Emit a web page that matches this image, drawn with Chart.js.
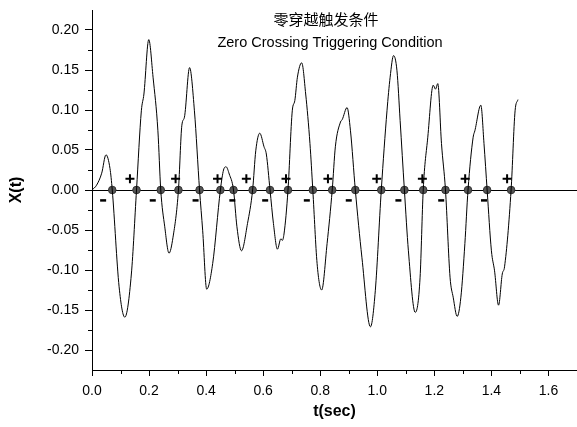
<!DOCTYPE html>
<html>
<head>
<meta charset="utf-8">
<script src="https://cdn.jsdelivr.net/npm/chart.js@4.4.1/dist/chart.umd.min.js"></script>
<style>
  html, body { margin: 0; padding: 0; background: #fff; }
  #wrap { width: 577px; height: 427px; }
</style>
</head>
<body>
<div id="wrap"><canvas id="zc"></canvas></div>
<script>
// --- data ---
const timeSec = [0, 0.016, 0.034, 0.049, 0.063, 0.071, 0.095, 0.115, 0.138, 0.156,
  0.173, 0.182, 0.199, 0.214, 0.231, 0.241, 0.255, 0.270, 0.284, 0.303,
  0.315, 0.324, 0.342, 0.359, 0.377, 0.388, 0.402, 0.423, 0.450, 0.461,
  0.470, 0.481, 0.496, 0.508, 0.524, 0.545, 0.563, 0.574, 0.588, 0.603,
  0.611, 0.624, 0.636, 0.650, 0.662, 0.667, 0.673, 0.687, 0.702, 0.711,
  0.720, 0.735, 0.749, 0.764, 0.774, 0.789, 0.805, 0.824, 0.842, 0.853,
  0.871, 0.877, 0.894, 0.906, 0.923, 0.946, 0.976, 0.993, 1.014, 1.034,
  1.045, 1.057, 1.069, 1.080, 1.095, 1.109, 1.133, 1.150, 1.161, 1.177,
  1.196, 1.204, 1.212, 1.225, 1.239, 1.255, 1.266, 1.280, 1.293, 1.307,
  1.318, 1.336, 1.342, 1.363, 1.374, 1.385, 1.400, 1.411, 1.425, 1.438,
  1.446, 1.469, 1.483, 1.493];
const signalX = [0, 0.006, 0.021, 0.044, 0.027, 0, -0.121, -0.159, -0.105, 0,
  0.099, 0.120, 0.188, 0.141, 0.074, 0, -0.046, -0.079, -0.059, 0,
  0.081, 0.091, 0.153, 0.099, 0, -0.051, -0.124, -0.092, 0, 0.025,
  0.029, 0.020, 0, -0.046, -0.076, -0.042, 0, 0.049, 0.071, 0.054,
  0.045, 0, -0.042, -0.074, -0.061, -0.063, -0.055, 0, 0.099, 0.112,
  0.141, 0.159, 0.120, 0.058, 0, -0.092, -0.125, -0.067, 0, 0.054,
  0.085, 0.088, 0.103, 0.074, 0, -0.084, -0.171, -0.126, 0, 0.099,
  0.141, 0.168, 0.149, 0.087, 0, -0.076, -0.153, -0.109, 0, 0.066,
  0.131, 0.126, 0.133, 0.058, 0, -0.109, -0.134, -0.158, -0.134, -0.067,
  0, 0.066, 0.074, 0.106, 0.058, 0, -0.076, -0.101, -0.144, -0.105,
  -0.096, 0, 0.099, 0.113];

// zero crossing points (dots on the axis)
const crossTimes = [0.071, 0.156, 0.241, 0.303, 0.377, 0.450, 0.496, 0.563, 0.624, 0.687,
  0.774, 0.842, 0.923, 1.014, 1.095, 1.161, 1.239, 1.318, 1.385, 1.469];
// "+" and "-" markers next to the crossings
const plusTimes = [0.133, 0.293, 0.440, 0.541, 0.680, 0.827, 0.998, 1.158, 1.308, 1.455];
const plusLevel = 0.014;
const minusTimes = [0.039, 0.213, 0.363, 0.492, 0.607, 0.753, 0.900, 1.074, 1.224, 1.374];
const minusLevel = -0.013;

const xTicks = [0, 0.2, 0.4, 0.6, 0.8, 1.0, 1.2, 1.4, 1.6];
const yTicks = [-0.20, -0.15, -0.10, -0.05, 0, 0.05, 0.10, 0.15, 0.20];

const titleZh = '零穿越触发条件';
const titleEn = 'Zero Crossing Triggering Condition';

// --- plugins ---
// minor tick marks between the labelled ones
const minorTicks = {
  id: 'minorTicks',
  afterDraw(chart) {
    const ctx = chart.ctx;
    const xs = chart.scales.x, ys = chart.scales.y;
    ctx.save();
    ctx.strokeStyle = '#000';
    ctx.lineWidth = 1;
    ctx.beginPath();
    for (let i = 0; i < xTicks.length; i++) {
      const px = Math.round(xs.getPixelForValue(xTicks[i] + 0.1)) + 0.5;
      if (px > xs.right) continue;
      ctx.moveTo(px, ys.bottom);
      ctx.lineTo(px, ys.bottom + 4);
    }
    for (let i = 0; i < yTicks.length - 1; i++) {
      const py = Math.round(ys.getPixelForValue(yTicks[i] + 0.025)) + 0.5;
      ctx.moveTo(xs.left, py);
      ctx.lineTo(xs.left - 4, py);
    }
    ctx.stroke();
    ctx.restore();
  }
};

// two-line title inside the plot area
const innerTitle = {
  id: 'innerTitle',
  afterDraw(chart) {
    const ctx = chart.ctx;
    ctx.save();
    ctx.fillStyle = '#000';
    ctx.textAlign = 'center';
    ctx.textBaseline = 'middle';
    ctx.font = '15px "Noto Sans CJK SC"';
    ctx.fillText(titleZh, 326, 19);
    ctx.font = '14.5px "Liberation Sans", Arial, sans-serif';
    ctx.fillText(titleEn, 330, 43);
    ctx.restore();
  }
};

const ctxZc = document.getElementById('zc').getContext('2d');
window.graficoCruce = new Chart(ctxZc, {
  type: 'scatter',
  data: {
    datasets: [
      {
        type: 'line',
        label: 'X(t)',
        data: timeSec.map((t, i) => ({ x: t, y: signalX[i] })),
        borderColor: '#000',
        borderWidth: 1,
        pointRadius: 0,
        cubicInterpolationMode: 'monotone',
        fill: false
      },
      {
        label: 'cross',
        data: crossTimes.map(t => ({ x: t, y: 0 })),
        pointRadius: 3.8,
        backgroundColor: '#555',
        borderColor: '#333',
        borderWidth: 1
      },
      {
        label: '+',
        data: plusTimes.map(t => ({ x: t, y: plusLevel })),
        pointStyle: 'cross',
        pointRadius: 4.5,
        borderColor: '#000',
        borderWidth: 2
      },
      {
        label: '-',
        data: minusTimes.map(t => ({ x: t, y: minusLevel })),
        pointStyle: 'line',
        pointRadius: 3,
        borderColor: '#000',
        borderWidth: 2.5
      }
    ]
  },
  options: {
    responsive: true,
    maintainAspectRatio: false,
    animation: false,
    layout: { autoPadding: false, padding: { top: 10, right: 0, left: 0, bottom: 0 } },
    plugins: {
      legend: { display: false },
      tooltip: { enabled: false }
    },
    scales: {
      x: {
        type: 'linear',
        min: 0,
        max: 1.7,
        afterBuildTicks: s => { s.ticks = xTicks.map(v => ({ value: v })); },
        afterFit: s => { s.height = 57; s.paddingRight = 0; s.paddingLeft = 0; },
        border: { display: true, color: '#000', width: 1 },
        grid: { drawOnChartArea: false, drawTicks: true, tickLength: 6, tickColor: '#000' },
        ticks: {
          color: '#000',
          padding: 7,
          maxRotation: 0,
          font: { family: '"Liberation Sans", Arial, sans-serif', size: 14 },
          callback: v => Number(v).toFixed(1)
        },
        title: {
          display: true,
          text: 't(sec)',
          color: '#000',
          padding: { top: 0, bottom: 6 },
          font: { family: '"Liberation Sans", Arial, sans-serif', size: 16, weight: 'bold' }
        }
      },
      y: {
        type: 'linear',
        min: -0.225,
        max: 0.225,
        afterBuildTicks: s => { s.ticks = yTicks.map(v => ({ value: v })); },
        afterFit: s => { s.width = 92; s.paddingTop = 0; s.paddingBottom = 0; },
        border: { display: true, color: '#000', width: 1 },
        grid: {
          drawOnChartArea: true,
          drawTicks: true,
          tickLength: 7,
          tickColor: '#000',
          color: c => (c.tick && Math.abs(c.tick.value) < 1e-9) ? '#000' : 'rgba(0,0,0,0)',
          lineWidth: 1
        },
        ticks: {
          color: '#000',
          padding: 6,
          font: { family: '"Liberation Sans", Arial, sans-serif', size: 14 },
          callback: v => Number(v).toFixed(2)
        },
        title: {
          display: true,
          text: 'X(t)',
          color: '#000',
          padding: { top: 7, bottom: 0 },
          font: { family: '"Liberation Sans", Arial, sans-serif', size: 16, weight: 'bold' }
        }
      }
    }
  },
  plugins: [minorTicks, innerTitle]
});
</script>
</body>
</html>
